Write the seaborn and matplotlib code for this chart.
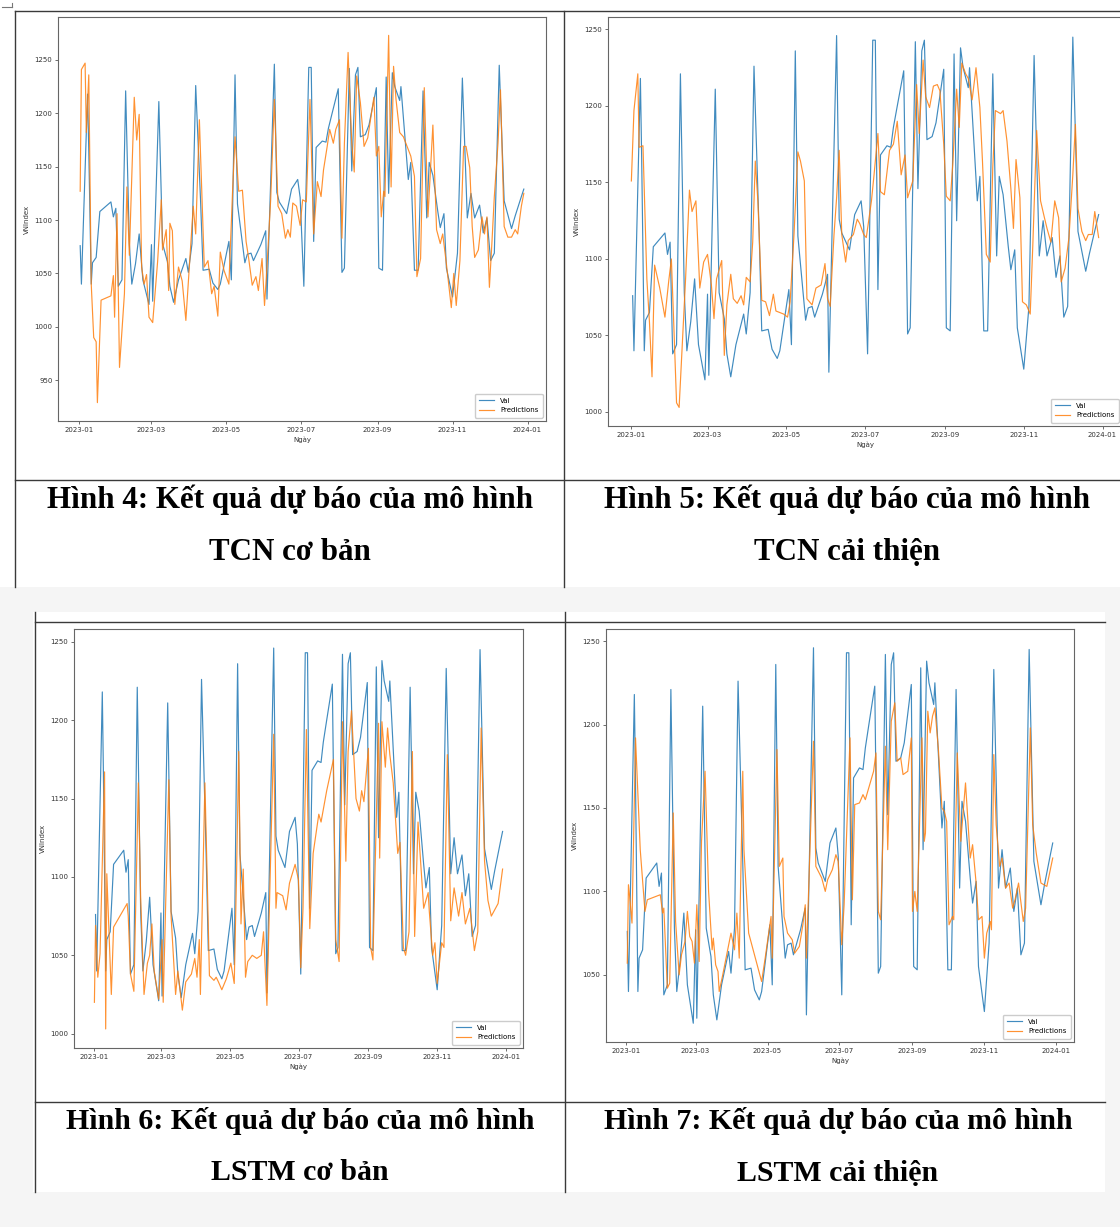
import pandas as pd
import numpy as np
import matplotlib
matplotlib.use('Agg')
import matplotlib.pyplot as plt
import matplotlib.dates as mdates
from matplotlib.ticker import MultipleLocator
from matplotlib.lines import Line2D
from matplotlib.patches import Rectangle
import seaborn as sns

W, H = 1120, 1227

# actual VNIndex (Val), shared by all four panels
val_dates = ["01-02", "01-03", "01-08", "01-09", "01-11", "01-12", "01-15", "01-18", "01-27", "01-29",
             "01-31", "02-02", "02-05", "02-08", "02-11", "02-13", "02-16", "02-19", "02-22", "02-27",
             "03-01", "03-02", "03-07", "03-10", "03-14", "03-16", "03-19", "03-23", "03-29", "03-31",
             "04-03", "04-06", "04-10", "04-12", "04-17", "04-20", "04-24", "04-26", "05-03", "05-05",
             "05-08", "05-10", "05-16", "05-18", "05-21", "05-23", "05-29", "06-02", "06-03", "06-09",
             "06-11", "06-13", "06-19", "06-23", "06-28", "06-30", "07-03", "07-07", "07-09", "07-11",
             "07-13", "07-18", "07-21", "07-23", "07-26", "07-31", "08-03", "08-05", "08-09", "08-11",
             "08-14", "08-16", "08-18", "08-22", "08-25", "08-31", "09-02", "09-05", "09-08", "09-10",
             "09-13", "09-15", "09-19", "09-20", "09-26", "09-28", "10-01", "10-04", "10-08", "10-11",
             "10-13", "10-16", "10-20", "10-22", "10-25", "10-27", "11-01", "11-05", "11-09", "11-13",
             "11-16", "11-19", "11-23", "11-26", "11-29", "12-02", "12-05", "12-09", "12-13", "12-19",
             "12-22", "12-27", "12-29"]
val_values = [1076, 1040, 1218, 1165, 1040, 1060, 1065, 1108, 1117, 1103,
              1111, 1038, 1044, 1221, 1078, 1040, 1059, 1087, 1044, 1021,
              1077, 1024, 1211, 1078, 1061, 1038, 1023, 1044, 1064, 1051,
              1078, 1226, 1117, 1053, 1054, 1041, 1035, 1040, 1080, 1044,
              1236, 1115, 1060, 1068, 1069, 1062, 1077, 1090, 1026, 1246,
              1126, 1117, 1106, 1129, 1138, 1121, 1038, 1243, 1243, 1080,
              1168, 1174, 1173, 1186, 1200, 1223, 1051, 1055, 1242, 1146,
              1236, 1243, 1178, 1180, 1189, 1224, 1055, 1053, 1234, 1125,
              1238, 1225, 1212, 1225, 1138, 1154, 1053, 1053, 1221, 1102,
              1154, 1142, 1108, 1093, 1106, 1055, 1028, 1069, 1233, 1102,
              1125, 1102, 1114, 1088, 1102, 1062, 1069, 1245, 1118, 1092,
              1104, 1122, 1129]

# Hinh 4: TCN co ban
tcn_base_dates = ["01-02", "01-03", "01-06", "01-07", "01-09", "01-11", "01-13", "01-15", "01-16", "01-19",
                  "01-27", "01-29", "01-30", "02-01", "02-03", "02-07", "02-09", "02-11", "02-15", "02-17",
                  "02-19", "02-21", "02-23", "02-25", "02-27", "03-02", "03-06", "03-09", "03-10", "03-13",
                  "03-15", "03-16", "03-18", "03-20", "03-23", "03-26", "03-29", "04-01", "04-04", "04-06",
                  "04-09", "04-13", "04-16", "04-19", "04-21", "04-24", "04-26", "04-29", "05-03", "05-06",
                  "05-08", "05-11", "05-14", "05-17", "05-19", "05-22", "05-25", "05-27", "05-30", "06-01",
                  "06-03", "06-06", "06-09", "06-12", "06-15", "06-18", "06-20", "06-22", "06-24", "06-27",
                  "06-30", "07-02", "07-05", "07-08", "07-11", "07-14", "07-17", "07-19", "07-22", "07-24",
                  "07-27", "07-29", "08-01", "08-03", "08-05", "08-08", "08-11", "08-13", "08-15", "08-18",
                  "08-21", "08-24", "08-27", "08-29", "08-31", "09-02", "09-04", "09-06", "09-07", "09-10",
                  "09-12", "09-14", "09-16", "09-19", "09-22", "09-25", "09-28", "10-01", "10-03", "10-06",
                  "10-09", "10-12", "10-16", "10-19", "10-22", "10-24", "10-27", "10-31", "11-02", "11-04",
                  "11-07", "11-10", "11-12", "11-15", "11-17", "11-19", "11-22", "11-25", "11-27", "11-29",
                  "12-01", "12-03", "12-05", "12-08", "12-10", "12-13", "12-16", "12-19", "12-22", "12-24",
                  "12-27", "12-29"]
tcn_base_values = [1127, 1241, 1247, 1182, 1236, 1040, 990, 986, 929, 1025,
                   1029, 1048, 1009, 1106, 962, 1031, 1131, 1067, 1215, 1175,
                   1199, 1056, 1040, 1049, 1009, 1004, 1061, 1119, 1072, 1091,
                   1034, 1097, 1090, 1021, 1056, 1043, 1006, 1059, 1113, 1087,
                   1194, 1056, 1062, 1031, 1038, 1010, 1070, 1053, 1040, 1127,
                   1178, 1127, 1128, 1080, 1065, 1039, 1047, 1034, 1064, 1020,
                   1056, 1119, 1213, 1113, 1106, 1083, 1091, 1084, 1116, 1113,
                   1095, 1119, 1117, 1213, 1087, 1136, 1122, 1147, 1169, 1185,
                   1172, 1185, 1194, 1083, 1172, 1257, 1172, 1145, 1235, 1210,
                   1169, 1177, 1200, 1215, 1160, 1169, 1103, 1127, 1122, 1273,
                   1131, 1244, 1213, 1182, 1178, 1169, 1160, 1141, 1047, 1064,
                   1224, 1103, 1189, 1091, 1078, 1087, 1059, 1018, 1050, 1020,
                   1062, 1169, 1169, 1149, 1094, 1065, 1072, 1103, 1087, 1103,
                   1037, 1078, 1122, 1172, 1222, 1094, 1084, 1084, 1091, 1087,
                   1113, 1125]

# Hinh 5: TCN cai thien
tcn_imp_dates = ["01-01", "01-03", "01-06", "01-07", "01-10", "01-13", "01-15", "01-17", "01-19", "01-23",
                 "01-27", "01-30", "02-01", "02-03", "02-05", "02-07", "02-09", "02-12", "02-15", "02-17",
                 "02-20", "02-23", "02-26", "03-01", "03-04", "03-06", "03-08", "03-12", "03-14", "03-16",
                 "03-19", "03-21", "03-24", "03-27", "03-29", "03-31", "04-03", "04-05", "04-07", "04-09",
                 "04-12", "04-15", "04-18", "04-21", "04-23", "04-26", "04-29", "05-02", "05-04", "05-07",
                 "05-10", "05-12", "05-15", "05-17", "05-21", "05-24", "05-28", "05-31", "06-02", "06-04",
                 "06-07", "06-09", "06-11", "06-13", "06-16", "06-18", "06-22", "06-25", "06-27", "06-30",
                 "07-02", "07-06", "07-08", "07-11", "07-13", "07-16", "07-20", "07-23", "07-26", "07-29",
                 "08-01", "08-03", "08-07", "08-10", "08-12", "08-15", "08-17", "08-20", "08-23", "08-26",
                 "08-28", "08-31", "09-02", "09-05", "09-07", "09-10", "09-12", "09-14", "09-17", "09-19",
                 "09-22", "09-25", "09-28", "09-30", "10-03", "10-06", "10-08", "10-10", "10-14", "10-16",
                 "10-19", "10-22", "10-24", "10-26", "10-29", "10-31", "11-03", "11-06", "11-08", "11-11",
                 "11-14", "11-17", "11-19", "11-22", "11-25", "11-28", "11-30", "12-03", "12-06", "12-09",
                 "12-11", "12-13", "12-16", "12-19", "12-21", "12-24", "12-26", "12-29"]
tcn_imp_values = [1151, 1197, 1221, 1173, 1174, 1087, 1059, 1023, 1096, 1081,
                  1062, 1086, 1100, 1054, 1006, 1003, 1037, 1087, 1145, 1131,
                  1138, 1081, 1098, 1103, 1083, 1061, 1087, 1099, 1037, 1070,
                  1090, 1074, 1071, 1076, 1070, 1088, 1085, 1111, 1164, 1138,
                  1073, 1072, 1063, 1077, 1066, 1065, 1064, 1062, 1072, 1116,
                  1170, 1164, 1151, 1074, 1070, 1081, 1083, 1097, 1074, 1069,
                  1116, 1140, 1171, 1116, 1098, 1112, 1116, 1126, 1123, 1116,
                  1114, 1138, 1155, 1182, 1144, 1142, 1171, 1175, 1190, 1155,
                  1168, 1140, 1151, 1214, 1182, 1230, 1206, 1199, 1213, 1214,
                  1210, 1175, 1141, 1138, 1162, 1211, 1186, 1228, 1221, 1218,
                  1204, 1225, 1199, 1164, 1103, 1098, 1160, 1197, 1195, 1197,
                  1177, 1146, 1120, 1165, 1140, 1072, 1070, 1064, 1109, 1184,
                  1138, 1127, 1120, 1111, 1138, 1127, 1085, 1094, 1114, 1155,
                  1188, 1133, 1118, 1112, 1116, 1116, 1131, 1114]

# Hinh 6: LSTM co ban
lstm_base_dates = ["01-01", "01-02", "01-04", "01-06", "01-10", "01-11", "01-12", "01-16", "01-18", "01-30",
                   "01-31", "02-02", "02-05", "02-09", "02-11", "02-14", "02-17", "02-19", "02-21", "02-23",
                   "02-27", "03-02", "03-03", "03-08", "03-10", "03-14", "03-16", "03-20", "03-23", "03-28",
                   "03-31", "04-02", "04-04", "04-05", "04-09", "04-11", "04-13", "04-17", "04-19", "04-21",
                   "04-24", "04-28", "05-02", "05-05", "05-07", "05-09", "05-11", "05-13", "05-15", "05-17",
                   "05-21", "05-25", "05-29", "05-31", "06-03", "06-05", "06-09", "06-11", "06-12", "06-17",
                   "06-20", "06-23", "06-28", "07-01", "07-03", "07-05", "07-08", "07-11", "07-14", "07-19",
                   "07-21", "07-26", "08-01", "08-03", "08-06", "08-09", "08-12", "08-14", "08-17", "08-21",
                   "08-24", "08-26", "08-28", "09-01", "09-03", "09-05", "09-10", "09-11", "09-13", "09-16",
                   "09-18", "09-20", "09-23", "09-27", "09-29", "10-02", "10-04", "10-07", "10-10", "10-12",
                   "10-15", "10-20", "10-24", "10-25", "10-28", "10-30", "11-01", "11-05", "11-07", "11-10",
                   "11-13", "11-16", "11-20", "11-23", "11-26", "11-30", "12-04", "12-07", "12-10", "12-13",
                   "12-16", "12-19", "12-25", "12-29"]
lstm_base_values = [1020, 1069, 1036, 1051, 1167, 1003, 1102, 1025, 1068, 1083,
                    1075, 1038, 1027, 1160, 1087, 1025, 1045, 1050, 1070, 1040,
                    1022, 1060, 1020, 1162, 1075, 1025, 1040, 1015, 1033, 1038,
                    1048, 1036, 1060, 1025, 1160, 1100, 1037, 1034, 1036, 1033,
                    1028, 1035, 1045, 1032, 1100, 1180, 1070, 1105, 1036, 1046,
                    1050, 1048, 1050, 1065, 1018, 1075, 1191, 1080, 1090, 1088,
                    1079, 1096, 1108, 1098, 1042, 1080, 1194, 1067, 1115, 1140,
                    1135, 1155, 1175, 1060, 1046, 1199, 1110, 1180, 1206, 1150,
                    1142, 1155, 1148, 1182, 1055, 1047, 1198, 1112, 1199, 1170,
                    1195, 1178, 1160, 1115, 1122, 1055, 1050, 1065, 1180, 1062,
                    1135, 1080, 1090, 1078, 1050, 1058, 1032, 1058, 1055, 1178,
                    1072, 1093, 1075, 1090, 1070, 1080, 1053, 1065, 1195, 1110,
                    1085, 1075, 1083, 1105]

# Hinh 7: LSTM cai thien
lstm_imp_dates = ["01-02", "01-03", "01-04", "01-06", "01-09", "01-13", "01-17", "01-19", "01-30", "02-01",
                  "02-02", "02-05", "02-07", "02-10", "02-12", "02-15", "02-17", "02-20", "02-22", "02-24",
                  "02-26", "02-28", "03-02", "03-04", "03-06", "03-09", "03-12", "03-15", "03-16", "03-18",
                  "03-20", "03-21", "03-24", "03-31", "04-03", "04-05", "04-07", "04-10", "04-11", "04-15",
                  "04-26", "04-29", "05-04", "05-05", "05-09", "05-11", "05-14", "05-15", "05-18", "05-22",
                  "05-24", "05-28", "05-31", "06-02", "06-03", "06-09", "06-11", "06-16", "06-19", "06-21",
                  "06-25", "06-28", "06-30", "07-03", "07-05", "07-10", "07-12", "07-14", "07-18", "07-21",
                  "07-23", "07-28", "07-30", "08-01", "08-03", "08-05", "08-09", "08-11", "08-14", "08-17",
                  "08-19", "08-22", "08-24", "08-28", "08-31", "09-01", "09-03", "09-05", "09-09", "09-11",
                  "09-12", "09-14", "09-16", "09-18", "09-20", "09-23", "09-26", "09-28", "09-30", "10-02",
                  "10-05", "10-06", "10-09", "10-12", "10-16", "10-20", "10-22", "10-25", "10-27", "10-30",
                  "11-01", "11-03", "11-06", "11-07", "11-09", "11-11", "11-14", "11-16", "11-19", "11-22",
                  "11-25", "11-27", "11-30", "12-04", "12-06", "12-10", "12-12", "12-15", "12-19", "12-24",
                  "12-29"]
lstm_imp_values = [1057, 1104, 1097, 1081, 1192, 1125, 1088, 1095, 1098, 1087,
                   1090, 1042, 1045, 1147, 1082, 1050, 1062, 1070, 1088, 1073,
                   1070, 1057, 1092, 1058, 1130, 1172, 1100, 1065, 1072, 1056,
                   1052, 1040, 1050, 1075, 1065, 1087, 1060, 1172, 1125, 1075,
                   1046, 1060, 1085, 1060, 1185, 1115, 1120, 1085, 1075, 1071,
                   1063, 1067, 1080, 1092, 1060, 1190, 1115, 1108, 1100, 1107,
                   1113, 1122, 1118, 1068, 1092, 1192, 1095, 1152, 1153, 1158,
                   1155, 1167, 1172, 1183, 1088, 1083, 1187, 1125, 1202, 1213,
                   1178, 1180, 1170, 1172, 1192, 1088, 1100, 1088, 1192, 1130,
                   1135, 1208, 1195, 1205, 1210, 1185, 1150, 1148, 1142, 1080,
                   1085, 1083, 1183, 1130, 1165, 1120, 1128, 1105, 1083, 1085,
                   1060, 1075, 1082, 1077, 1182, 1140, 1115, 1120, 1102, 1105,
                   1090, 1095, 1105, 1082, 1090, 1198, 1140, 1123, 1105, 1103,
                   1120]

captions = [
    ("Hình 4: Kết quả dự báo của mô hình", "TCN cơ bản"),
    ("Hình 5: Kết quả dự báo của mô hình", "TCN cải thiện"),
    ("Hình 6: Kết quả dự báo của mô hình", "LSTM cơ bản"),
    ("Hình 7: Kết quả dự báo của mô hình", "LSTM cải thiện"),
]

plt.rcParams.update({
    'font.family': ['DejaVu Sans'],
    'xtick.major.size': 2, 'ytick.major.size': 2,
    'xtick.major.width': 0.5, 'ytick.major.width': 0.5,
    'xtick.major.pad': 2, 'ytick.major.pad': 2,
})


def to_dt(days):
    return pd.to_datetime(['2023-' + d for d in days])


def px_box(l, t, r, b):
    return [l / W, 1 - b / H, (r - l) / W, (b - t) / H]


def fig_line(fig, x0, y0, x1, y1, color='#3a3a3a', lw=1.0):
    fig.add_artist(Line2D([x0 / W, x1 / W], [1 - y0 / H, 1 - y1 / H],
                          transform=fig.transFigure, color=color, lw=lw, zorder=5))


def draw_panel(ax, pred_dates, pred_values):
    df = pd.concat([
        pd.DataFrame({'Ngày': to_dt(val_dates), 'VNIndex': val_values, 'series': 'Val'}),
        pd.DataFrame({'Ngày': to_dt(pred_dates), 'VNIndex': pred_values, 'series': 'Predictions'}),
    ], ignore_index=True)
    sns.lineplot(data=df, x='Ngày', y='VNIndex', hue='series',
                 hue_order=['Val', 'Predictions'],
                 palette={'Val': '#1f77b4', 'Predictions': '#ff7f0e'},
                 estimator=None, linewidth=0.85, alpha=0.85, ax=ax)
    ax.xaxis.set_major_locator(mdates.MonthLocator(bymonth=[1, 3, 5, 7, 9, 11]))
    ax.xaxis.set_major_formatter(mdates.DateFormatter('%Y-%m'))
    ax.yaxis.set_major_locator(MultipleLocator(50))
    ax.tick_params(labelsize=5, colors='#333333')
    ax.set_xlabel('Ngày', fontsize=5, color='#333333', labelpad=3)
    ax.set_ylabel('VNIndex', fontsize=5, color='#333333', labelpad=3)
    for s in ax.spines.values():
        s.set_color('#666666')
        s.set_linewidth(0.8)
    handles, labels = ax.get_legend_handles_labels()
    ax.legend(handles, labels, loc='lower right', fontsize=5, handlelength=2.2,
              borderpad=0.6, labelspacing=0.5, framealpha=1, edgecolor='#cccccc')


fig = plt.figure(figsize=(W / 100, H / 100), dpi=100)
fig.patch.set_facecolor('white')

# grey page background under the second table, and the white table itself
fig.add_artist(Rectangle((0, 0), 1, (H - 587) / H, transform=fig.transFigure,
                         facecolor='#f5f5f5', edgecolor='none', zorder=-10))
fig.add_artist(Rectangle((33 / W, 1 - 1192 / H), (1105 - 33) / W, (1192 - 612) / H,
                         transform=fig.transFigure, facecolor='white', edgecolor='none', zorder=-9))

# table borders, top table
fig_line(fig, 15, 11, W, 11)
fig_line(fig, 15, 11, 15, 587)
fig_line(fig, 564, 11, 564, 587)
fig_line(fig, 15, 480, W, 480)
fig_line(fig, 2, 7, 12, 7, color='#777777', lw=0.8)
fig_line(fig, 12, 3, 12, 7, color='#777777', lw=0.8)
# table borders, bottom table
fig_line(fig, 35, 622, 1105, 622)
fig_line(fig, 35, 612, 35, 1192)
fig_line(fig, 565, 612, 565, 1192)
fig_line(fig, 35, 1102, 1105, 1102)

panels = [
    (px_box(58, 17, 546, 421), tcn_base_dates, tcn_base_values),
    (px_box(608, 17, 1122, 426), tcn_imp_dates, tcn_imp_values),
    (px_box(74, 629, 523, 1048), lstm_base_dates, lstm_base_values),
    (px_box(606, 629, 1074, 1042), lstm_imp_dates, lstm_imp_values),
]
for box, d, v in panels:
    ax = fig.add_axes(box)
    draw_panel(ax, d, v)

cap_pos = [(290, 500, 553, 22.3), (847, 500, 553, 22.3),
           (300, 1121, 1173, 21.5), (838, 1121, 1173, 21.5)]
for (line1, line2), (cx, y1, y2, fs) in zip(captions, cap_pos):
    for txt, yy in ((line1, y1), (line2, y2)):
        fig.text(cx / W, 1 - yy / H, txt, ha='center', va='center', fontsize=fs,
                 fontweight='bold', family=['Liberation Serif', 'DejaVu Serif'], color='black')

fig.savefig('out.png', dpi=100)
plt.close(fig)
